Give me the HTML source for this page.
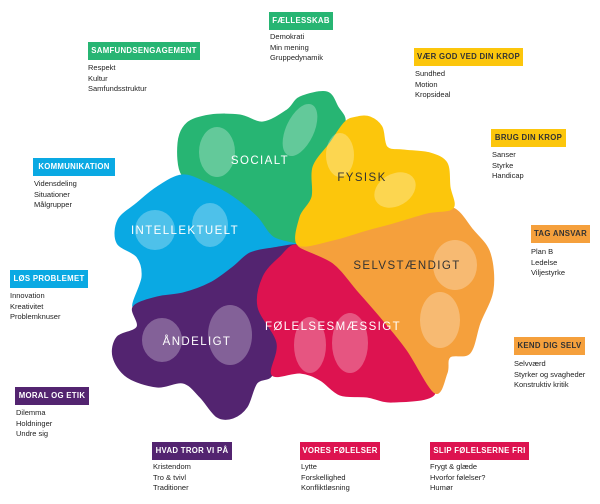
<!DOCTYPE html>
<html><head><meta charset="utf-8"><style>
body{margin:0;width:600px;height:504px;background:#fff;position:relative;overflow:hidden;font-family:"Liberation Sans",sans-serif}
.h{position:absolute;height:18px;line-height:18px;font-size:7.8px;font-weight:bold;color:#fff;text-align:center;letter-spacing:.3px;white-space:nowrap}
.l{position:absolute;font-size:7.5px;line-height:10.5px;color:#222;white-space:nowrap}
svg{position:absolute;left:0;top:0}
</style></head><body>
<svg width="600" height="504" viewBox="0 0 600 504">
<g id="regs" stroke-linejoin="round" stroke-width="1">
<polygon fill="#27b573" stroke="#27b573" points="182,175 178,143 187,123 210,115 240,115 263,122 287,110 300,97 327,92 338,107 345,122 330,143 313,167 312,197 300,217 298,245 273,237 257,217 233,197 207,183"/>
<polygon fill="#0aa9e3" stroke="#0aa9e3" points="182,175 207,183 233,197 257,217 273,237 298,245 273,248 250,253 233,267 210,283 183,293 157,297 133,307 142,277 137,257 117,243 118,220 137,203 157,187"/>
<polygon fill="#532470" stroke="#532470" points="133,307 157,297 183,293 210,283 233,267 250,253 273,248 298,245 280,257 263,277 258,307 277,343 272,375 257,383 247,407 233,418 217,417 200,397 183,383 157,387 127,377 113,357 117,337 137,327"/>
<polygon fill="#dd1350" stroke="#dd1350" points="298,245 280,257 263,277 258,307 277,343 272,375 300,373 320,380 340,395 367,397 393,402 435,393 407,350 383,320 357,290 333,263"/>
<polygon fill="#f5a03c" stroke="#f5a03c" points="298,245 333,263 357,290 383,320 407,350 435,393 447,373 450,357 470,353 480,323 493,290 490,253 473,230 453,208 427,213 393,223 367,230 333,240"/>
<polygon fill="#fcc60c" stroke="#fcc60c" points="345,122 357,117 370,117 382,127 387,147 403,150 430,153 447,163 450,187 453,208 427,213 393,223 367,230 333,240 298,245 300,217 312,197 313,167 330,143"/>
</g>
<g fill="#fff" opacity="0.28">
<ellipse cx="217" cy="152" rx="18" ry="25"/><ellipse cx="300" cy="130" rx="14" ry="28" transform="rotate(25 300 130)"/>
<ellipse cx="340" cy="155" rx="14" ry="22"/><ellipse cx="395" cy="190" rx="22" ry="16" transform="rotate(-30 395 190)"/>
<ellipse cx="155" cy="230" rx="20" ry="20"/><ellipse cx="210" cy="225" rx="18" ry="22"/>
<ellipse cx="162" cy="340" rx="20" ry="22"/><ellipse cx="230" cy="335" rx="22" ry="30"/>
<ellipse cx="310" cy="345" rx="16" ry="28"/><ellipse cx="350" cy="343" rx="18" ry="30"/>
<ellipse cx="455" cy="265" rx="22" ry="25"/><ellipse cx="440" cy="320" rx="20" ry="28"/>
</g>
<g font-family="Liberation Sans,sans-serif" font-size="11.5" letter-spacing="1.4" text-anchor="middle">
<text x="260" y="164" fill="#fff">SOCIALT</text>
<text x="362" y="181" fill="#333">FYSISK</text>
<text x="185" y="234" fill="#fff">INTELLEKTUELT</text>
<text x="407" y="269" fill="#333">SELVSTÆNDIGT</text>
<text x="333" y="330" fill="#fff">FØLELSESMÆSSIGT</text>
<text x="197" y="345" fill="#fff">ÅNDELIGT</text>
</g>
</svg>
<script>
document.querySelectorAll('#regs polygon').forEach(function(pg){
 var a=pg.getAttribute('points').trim().split(/\s+/).map(function(s){return s.split(',').map(Number)});
 var n=a.length,d='M'+a[0][0]+','+a[0][1];
 for(var i=0;i<n;i++){var p0=a[(i-1+n)%n],p1=a[i],p2=a[(i+1)%n],p3=a[(i+2)%n];
  var c1=[p1[0]+(p2[0]-p0[0])/6,p1[1]+(p2[1]-p0[1])/6],c2=[p2[0]-(p3[0]-p1[0])/6,p2[1]-(p3[1]-p1[1])/6];
  d+='C'+c1[0].toFixed(1)+','+c1[1].toFixed(1)+' '+c2[0].toFixed(1)+','+c2[1].toFixed(1)+' '+p2[0]+','+p2[1];}
 var p=document.createElementNS('http://www.w3.org/2000/svg','path');
 p.setAttribute('d',d+'Z');p.setAttribute('fill',pg.getAttribute('fill'));p.setAttribute('stroke',pg.getAttribute('stroke'));p.setAttribute('stroke-width','1');
 pg.parentNode.replaceChild(p,pg);
});
</script>

<div class="h" style="left:269px;top:12px;width:64px;background:#27b573">FÆLLESSKAB</div>
<div class="l" style="left:270px;top:32px">Demokrati<br>Min mening<br>Gruppedynamik</div>

<div class="h" style="left:88px;top:42px;width:112px;background:#27b573">SAMFUNDSENGAGEMENT</div>
<div class="l" style="left:88px;top:63px">Respekt<br>Kultur<br>Samfundsstruktur</div>

<div class="h" style="left:414px;top:48px;width:109px;background:#fcc60c;color:#333">VÆR GOD VED DIN KROP</div>
<div class="l" style="left:415px;top:69px">Sundhed<br>Motion<br>Kropsideal</div>

<div class="h" style="left:491px;top:129px;width:75px;background:#fcc60c;color:#333">BRUG DIN KROP</div>
<div class="l" style="left:492px;top:150px">Sanser<br>Styrke<br>Handicap</div>

<div class="h" style="left:33px;top:158px;width:82px;background:#0aa9e3">KOMMUNIKATION</div>
<div class="l" style="left:34px;top:179px">Vidensdeling<br>Situationer<br>Målgrupper</div>

<div class="h" style="left:531px;top:225px;width:59px;background:#f5a03c;color:#333">TAG ANSVAR</div>
<div class="l" style="left:531px;top:247px">Plan B<br>Ledelse<br>Viljestyrke</div>

<div class="h" style="left:10px;top:270px;width:78px;background:#0aa9e3">LØS PROBLEMET</div>
<div class="l" style="left:10px;top:291px">Innovation<br>Kreativitet<br>Problemknuser</div>

<div class="h" style="left:514px;top:337px;width:71px;background:#f5a03c;color:#333">KEND DIG SELV</div>
<div class="l" style="left:514px;top:359px">Selvværd<br>Styrker og svagheder<br>Konstruktiv kritik</div>

<div class="h" style="left:15px;top:387px;width:74px;background:#532470">MORAL OG ETIK</div>
<div class="l" style="left:16px;top:408px">Dilemma<br>Holdninger<br>Undre sig</div>

<div class="h" style="left:152px;top:442px;width:80px;background:#532470">HVAD TROR VI PÅ</div>
<div class="l" style="left:153px;top:462px">Kristendom<br>Tro &amp; tvivl<br>Traditioner</div>

<div class="h" style="left:300px;top:442px;width:80px;background:#dd1350">VORES FØLELSER</div>
<div class="l" style="left:301px;top:462px">Lytte<br>Forskellighed<br>Konfliktløsning</div>

<div class="h" style="left:430px;top:442px;width:99px;background:#dd1350">SLIP FØLELSERNE FRI</div>
<div class="l" style="left:430px;top:462px">Frygt &amp; glæde<br>Hvorfor følelser?<br>Humør</div>
</body></html>
